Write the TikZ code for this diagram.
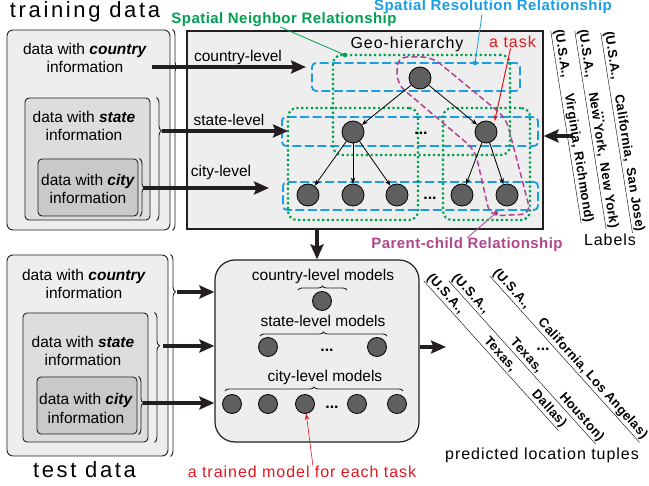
\documentclass[tikz,border=0pt]{standalone}
\usepackage{fontspec}
\setmainfont{Liberation Sans}
\newfontfamily\spacedfont{Liberation Sans}[LetterSpace=6.0]
\newfontfamily\widefont{Liberation Sans}[LetterSpace=12.0]
\newfontfamily\tuplefont{Liberation Sans}[LetterSpace=3.0]
\usepackage{tikz}
\usetikzlibrary{arrows.meta,decorations.pathreplacing}
\definecolor{BoxLight}{HTML}{EDEEED}
\definecolor{BoxMid}{HTML}{DCDDDC}
\definecolor{BoxDark}{HTML}{C9C9C9}
\definecolor{NodeGray}{HTML}{5F5F5F}
\definecolor{EdgeDark}{HTML}{231F20}
\definecolor{ResBlue}{HTML}{1B9DE2}
\definecolor{NbrGreen}{HTML}{00A050}
\definecolor{PcMagenta}{HTML}{B2458E}
\definecolor{TaskRed}{HTML}{E8141E}
\tikzset{
    % Data boxes
    outerbox/.style={
        draw=EdgeDark,
        fill=BoxLight,
        line width=0.9pt,
        rounded corners=6pt,
        inner sep=0pt
    },
    midbox/.style={
        outerbox,
        fill=BoxMid,
        rounded corners=4pt
    },
    darkbox/.style={
        outerbox,
        fill=BoxDark,
        rounded corners=4pt
    },
    % Geo-hierarchy frame and model frame
    geobox/.style={
        draw=EdgeDark,
        fill=BoxLight,
        line width=1.2pt,
        inner sep=0pt
    },
    modelbox/.style={
        geobox,
        rounded corners=20pt
    },
    % Relationship outlines
    resbox/.style={
        draw=ResBlue,
        line width=1.8pt,
        dash pattern=on 9pt off 3.5pt,
        rounded corners=4pt,
        inner sep=0pt
    },
    nbrbox/.style={
        draw=NbrGreen,
        line width=2.2pt,
        dash pattern=on 2.2pt off 2.6pt,
        rounded corners=9pt,
        inner sep=0pt
    },
    pcline/.style={
        draw=PcMagenta,
        line width=1.5pt,
        dash pattern=on 6pt off 3pt,
        rounded corners=10pt
    },
    % Task nodes
    geonode/.style={
        circle,
        draw=black,
        fill=NodeGray,
        line width=0.8pt,
        minimum size=22pt,
        inner sep=0pt
    },
    modelnode/.style={
        geonode,
        minimum size=19pt
    },
    % Texts
    datatext/.style={
        align=center,
        inner sep=0pt,
        font=\fontsize{15.5}{18.5}\selectfont
    },
    plaintext/.style={
        inner sep=0pt,
        anchor=base,
        font=\fontsize{15.5}{18.5}\selectfont
    },
    spacedtext/.style={
        inner sep=0pt,
        anchor=base,
        font=\fontsize{16}{19}\spacedfont
    },
    titletext/.style={
        inner sep=0pt,
        anchor=base,
        font=\fontsize{22}{26}\widefont
    },
    reltext/.style={
        inner sep=0pt,
        anchor=base,
        font=\fontsize{15}{18}\tuplefont\bfseries
    },
    dotstext/.style={
        inner sep=0pt,
        font=\fontsize{16}{18}\selectfont\bfseries
    },
    tuplebase/.style={
        inner sep=0.5pt,
        anchor=west,
        font=\fontsize{13}{15}\tuplefont\bfseries
    },
    toptuple/.style={
        tuplebase,
        rotate=-81
    },
    bottuple/.style={
        tuplebase,
        rotate=-48
    },
    % Braces
    databrace/.style={
        decorate,
        decoration={brace, amplitude=5pt, aspect=#1},
        line width=0.9pt,
        draw=EdgeDark
    },
    modelbrace/.style={
        decorate,
        decoration={brace, amplitude=4pt},
        line width=0.9pt,
        draw=EdgeDark
    },
    % Arrows
    bigarrow/.style={
        -{Stealth[length=15pt,width=13pt,inset=2.5pt]},
        line width=3.2pt,
        draw=EdgeDark
    },
    treearrow/.style={
        -{Stealth[length=6pt,width=4.5pt]},
        line width=0.8pt,
        draw=black
    },
    taskarrow/.style={
        -{Stealth[length=6pt,width=4.5pt]},
        line width=1pt,
        draw=TaskRed
    },
    leadline/.style={
        line width=0.8pt
    }
}
\begin{document}
\begin{tikzpicture}[x=1pt,y=-1pt]
    \useasboundingbox (0,0) rectangle (649,486);

    % Training data
    \node[titletext] (trtitle) at (85,17.5) {training data};
    \node[outerbox,minimum width=163,minimum height=200] (train) at (88.5,130) {};
    \node[midbox,minimum width=125,minimum height=122] (trstate) at (87.5,159) {};
    \node[darkbox,minimum width=100,minimum height=57] (trcity) at (88,187.5) {};
    \node[datatext] (trctxt) at (85,58) {data with \textbf{\textit{country}}\\information};
    \node[datatext] (trstxt) at (84,126) {data with \textbf{\textit{state}}\\information};
    \node[datatext] (trktxt) at (88,189) {data with \textbf{\textit{city}}\\information};
    \draw[databrace=0.185] ([xshift=2pt]train.north east) -- ([xshift=2pt]train.south east);
    \draw[databrace=0.27] ([xshift=6pt]trstate.north east) -- ([xshift=6pt]trstate.south east);
    \draw[databrace=0.51] ([xshift=1pt]trcity.north east) -- ([xshift=1pt]trcity.south east);

    % Geo-hierarchy
    \node[geobox,minimum width=356,minimum height=198] (geo) at (365,130) {};
    \node[spacedtext] (geotitle) at (407,48.5) {Geo-hierarchy};
    \node[resbox,minimum width=208,minimum height=28] (rowC) at (416,77) {};
    \node[resbox,minimum width=256,minimum height=29] (rowS) at (410,131.5) {};
    \node[resbox,minimum width=255,minimum height=28] (rowK) at (410.5,196) {};
    \node[nbrbox,minimum width=177,minimum height=100] (nbrA) at (421.5,105) {};
    \node[nbrbox,minimum width=130,minimum height=112] (nbrB) at (353,164) {};
    \node[nbrbox,minimum width=87,minimum height=112] (nbrC) at (486.5,164) {};
    \draw[pcline] (397,84) -- (397,57) -- (432,57) -- (506,118) -- (531,214)
        -- (490,216) -- (475,150) -- cycle;

    \node[geonode] (gc) at (420,78) {};
    \node[geonode] (gs1) at (353,132) {};
    \node[geonode] (gs2) at (486,132) {};
    \node[geonode] (gk1) at (308,195) {};
    \node[geonode] (gk2) at (353,195) {};
    \node[geonode] (gk3) at (397,195) {};
    \node[geonode] (gk4) at (462,195) {};
    \node[geonode] (gk5) at (507,195) {};
    \node[dotstext,anchor=base] (gsdots) at (421,135) {...};
    \node[dotstext,anchor=base] (gkdots) at (430,200) {...};
    \draw[treearrow] (gc) -- (gs1);
    \draw[treearrow] (gc) -- (gs2);
    \draw[treearrow] (gs1) -- (gk1);
    \draw[treearrow] (gs1) -- (gk2);
    \draw[treearrow] (gs1) -- (gk3);
    \draw[treearrow] (gs2) -- (gk4);
    \draw[treearrow] (gs2) -- (gk5);

    % Level labels and input arrows
    \node[plaintext] (lvlC) at (238,61.5) {country-level};
    \node[plaintext] (lvlS) at (229,126) {state-level};
    \node[plaintext] (lvlK) at (221,177) {city-level};
    \coordinate (trcS) at (152,67);  \coordinate (trcE) at (306,67);
    \coordinate (trsS) at (162,131); \coordinate (trsE) at (288,131);
    \coordinate (trkS) at (143,188); \coordinate (trkE) at (269,188);
    \draw[bigarrow] (trcS) -- (trcE);
    \draw[bigarrow] (trsS) -- (trsE);
    \draw[bigarrow] (trkS) -- (trkE);

    % Relationship labels
    \node[reltext,text=NbrGreen] (nbrlbl) at (284,23.5) {Spatial Neighbor Relationship};
    \node[reltext,text=ResBlue] (reslbl) at (493,11) {Spatial Resolution Relationship};
    \node[reltext,text=PcMagenta] (pclbl) at (467,249) {Parent-child Relationship};
    \coordinate (nbrdot) at (345,55);
    \coordinate (resdot) at (475,63);
    \coordinate (pcdot) at (496,213);
    \draw[leadline,NbrGreen] ([xshift=-4pt]nbrlbl.south) -- (nbrdot);
    \fill[NbrGreen] (nbrdot) circle (2.3);
    \draw[leadline,ResBlue] ([xshift=-11pt]reslbl.south) -- (resdot);
    \fill[ResBlue] (resdot) circle (2.3);
    \draw[leadline,PcMagenta] (pclbl.north) -- (pcdot);
    \fill[PcMagenta] (pcdot) circle (2.3);
    \node[spacedtext,text=TaskRed] (tasklbl) at (512.5,48) {a task};
    \draw[taskarrow,shorten >=3pt] ([xshift=-2pt]tasklbl.south) -- (gs2.north east);

    % Labels
    \node[toptuple] (lab1) at (557,29) {\underline{(U.S.A.,\hspace{16pt}Virginia,\hspace{5pt}Richmond)}};
    \node[toptuple] (lab2) at (581,29) {\underline{(U.S.A.,\hspace{15pt}New York,\hspace{7pt}New York)}};
    \node[toptuple] (lab3) at (607,31) {\underline{(U.S.A.,\hspace{15pt}California,\hspace{7pt}San Jose)}};
    \node[toptuple,anchor=center] (labdots) at (603,117) {...};
    \node[spacedtext] (labels) at (610,246) {Labels};
    \coordinate (labS) at (573,136);
    \draw[bigarrow] (labS) -- (labS -| geo.east);

    % Test data
    \node[titletext] (tetitle) at (84.5,478) {test data};
    \node[outerbox,minimum width=161,minimum height=201] (test) at (87.5,355.5) {};
    \node[midbox,minimum width=125,minimum height=129] (testate) at (85.5,377.5) {};
    \node[darkbox,minimum width=100,minimum height=57] (tecity) at (87,405.5) {};
    \node[datatext] (tectxt) at (84,284) {data with \textbf{\textit{country}}\\information};
    \node[datatext] (testxt) at (83,351) {data with \textbf{\textit{state}}\\information};
    \node[datatext] (tektxt) at (86,408.5) {data with \textbf{\textit{city}}\\information};
    \draw[databrace=0.184] ([xshift=2pt]test.north east) -- ([xshift=2pt]test.south east);
    \draw[databrace=0.256] ([xshift=6pt]testate.north east) -- ([xshift=6pt]testate.south east);
    \draw[databrace=0.456] ([xshift=1pt]tecity.north east) -- ([xshift=1pt]tecity.south east);

    % Trained models
    \node[modelbox,minimum width=204,minimum height=182] (mdl) at (317,351) {};
    \draw[bigarrow] (geo.south -| mdl.north) -- (mdl.north);
    \node[plaintext] (mctxt) at (323,281) {country-level models};
    \draw[modelbrace] (298,290) -- (347,290);
    \node[modelnode] (mc) at (322,301) {};
    \node[plaintext] (mstxt) at (323,327) {state-level models};
    \draw[modelbrace] (260,336) -- (387,336);
    \node[modelnode] (ms1) at (268,347) {};
    \node[modelnode] (ms2) at (377,347) {};
    \node[dotstext,anchor=base] (msdots) at (327,352) {...};
    \node[plaintext] (mktxt) at (325,382) {city-level models};
    \draw[modelbrace] (225,391) -- (403,391);
    \node[modelnode] (mk1) at (232,404) {};
    \node[modelnode] (mk2) at (268,404) {};
    \node[modelnode] (mk3) at (305,404) {};
    \node[modelnode] (mk4) at (357,404) {};
    \node[modelnode] (mk5) at (397,404) {};
    \node[dotstext,anchor=base] (mkdots) at (332,409) {...};
    \coordinate (tecS) at (177,292);
    \coordinate (tesS) at (163,346);
    \coordinate (tekS) at (143,403);
    \draw[bigarrow] (tecS) -- (tecS -| mdl.west);
    \draw[bigarrow] (tesS) -- (tesS -| mdl.west);
    \draw[bigarrow] (tekS) -- (tekS -| mdl.west);
    \node[spacedtext,text=TaskRed] (trainedlbl) at (302,478) {a trained model for each task};
    \draw[taskarrow,line width=0.6pt] ([xshift=11pt]trainedlbl.north) -- (mk3);

    % Predicted location tuples
    \coordinate (outE) at (446,347);
    \draw[bigarrow] (mdl.east |- outE) -- (outE);
    \node[bottuple] (pred1) at (428,276) {\underline{(U.S.A.,\hspace{36pt}Texas,\hspace{30pt}Dallas)}};
    \node[bottuple] (pred2) at (453,276) {\underline{(U.S.A.,\hspace{38pt}Texas,\hspace{32pt}Houston)}};
    \node[bottuple] (pred3) at (494,271) {\underline{(U.S.A.,\hspace{18pt}California,\hspace{4pt}Los Angelas)}};
    \node[dotstext,anchor=base] (preddots) at (543,351) {...};
    \node[spacedtext] (predlbl) at (542,460) {predicted location tuples};
\end{tikzpicture}
\end{document}
